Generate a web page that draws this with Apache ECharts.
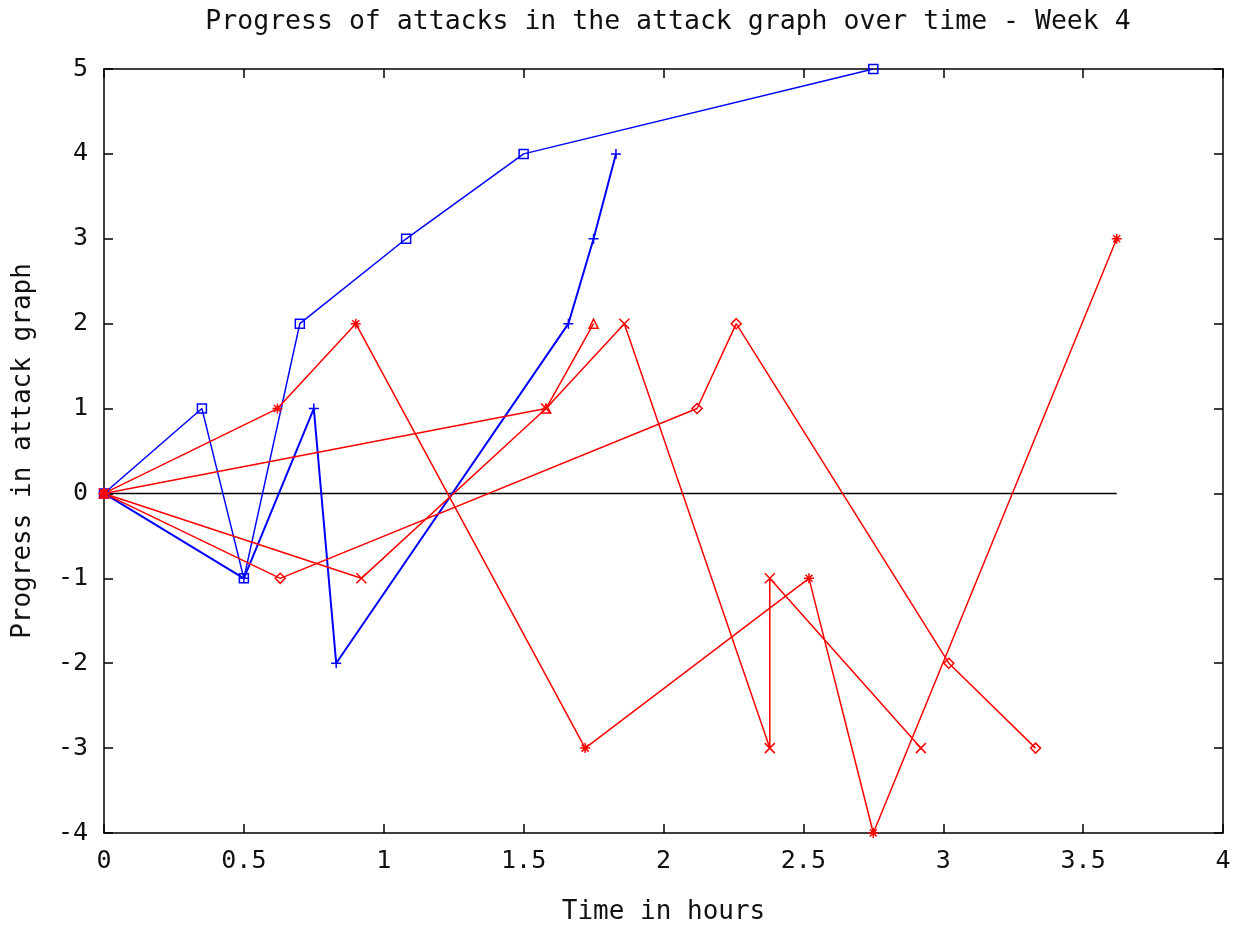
<!DOCTYPE html>
<html>
<head>
<meta charset="utf-8">
<script src="https://cdn.jsdelivr.net/npm/echarts@6/dist/echarts.min.js"></script>
<style>html,body{margin:0;padding:0;background:#fff}#c{width:1236px;height:930px}</style>
</head>
<body>
<div id="c"></div>
<script>
// ---- data ----
const titleText = "Progress of attacks in the attack graph over time - Week 4";
const xName = "Time in hours";
const yName = "Progress in attack graph";
const xTicks = [0, 0.5, 1, 1.5, 2, 2.5, 3, 3.5, 4];
const yTicks = [-4, -3, -2, -1, 0, 1, 2, 3, 4, 5];

const squareX = [0, 0.35, 0.5, 0.7, 1.08, 1.5, 2.75];
const squareY = [0, 1, -1, 2, 3, 4, 5];
const plusX = [0, 0.5, 0.75, 0.83, 1.66, 1.75, 1.83];
const plusY = [0, -1, 1, -2, 2, 3, 4];
const starX = [0, 0.62, 0.9, 1.72, 2.52, 2.75, 3.62];
const starY = [0, 1, 2, -3, -1, -4, 3];
const crossX = [0, 0.92, 1.58, 1.86, 2.38, 2.38, 2.92];
const crossY = [0, -1, 1, 2, -3, -1, -3];
const triX = [0, 1.58, 1.75];
const triY = [0, 1, 2];
const diamondX = [0, 0.63, 2.12, 2.26, 3.02, 3.33];
const diamondY = [0, -1, 1, 2, -2, -3];
const zeroX = [0, 3.62];
const zeroY = [0, 0];

// ---- build ----
const zip = (xs, ys) => xs.map((x, i) => [x, ys[i]]);
const BLUE = '#0000ff', RED = '#ff0000';
const FONT = '"DejaVu Sans Mono", "Liberation Mono", monospace';
const SYM = {
  plus: 'path://M0,5L10,5M5,0L5,10',
  cross: 'path://M0,0L10,10M10,0L0,10',
  star: 'path://M0,5L10,5M5,0L5,10M1.5,1.5L8.5,8.5M8.5,1.5L1.5,8.5'
};
function mk(name, xs, ys, color, symbol, size, width, fillNone) {
  return {
    name, type: 'line', data: zip(xs, ys),
    symbol, symbolSize: size, showSymbol: symbol !== 'none',
    lineStyle: { color, width: width },
    itemStyle: { color: fillNone ? 'rgba(0,0,0,0)' : color, borderColor: color, borderWidth: 1.5 },
    emphasis: { disabled: true }, animation: false, z: 3
  };
}
const series = [
  mk('zero', zeroX, zeroY, '#000', 'none', 0, 1.5, false),
  mk('sq', squareX, squareY, BLUE, 'rect', 9, 1.5, true),
  mk('plus', plusX, plusY, BLUE, SYM.plus, 10, 2, true),
  mk('star', starX, starY, RED, SYM.star, 10, 1.5, true),
  mk('cross', crossX, crossY, RED, SYM.cross, 10, 1.5, true),
  mk('tri', triX, triY, RED, 'triangle', 9, 1.5, true),
  mk('dia', diamondX, diamondY, RED, 'diamond', 10, 1.5, true)
];
series[0].z = 2;

const axisLabel = { color: '#111', fontFamily: FONT, fontSize: 25 };
const axisLine = { show: true, onZero: false, lineStyle: { color: '#000', width: 1.5 } };
const axisTick = { show: true, inside: true, length: 9, lineStyle: { color: '#000', width: 1.5 } };

const option = {
  backgroundColor: '#fff',
  animation: false,
  title: {
    text: titleText, left: 663, textAlign: 'center', top: 4,
    textStyle: { fontFamily: FONT, fontSize: 26.5, fontWeight: 'normal', color: '#111' }
  },
  grid: { left: 104, right: 13, top: 69, bottom: 92 },
  xAxis: [
    { type: 'value', position: 'bottom', min: 0, max: 4, interval: 0.5, splitLine: { show: false },
      name: xName, nameLocation: 'middle', nameGap: 66,
      nameTextStyle: { fontFamily: FONT, fontSize: 26, color: '#111' },
      axisLine, axisTick, axisLabel: Object.assign({ margin: 16, formatter: v => String(v) }, axisLabel) },
    { type: 'value', position: 'top', min: 0, max: 4, interval: 0.5, splitLine: { show: false },
      axisLine, axisTick, axisLabel: { show: false } }
  ],
  yAxis: [
    { type: 'value', position: 'left', min: -4, max: 5, interval: 1, splitLine: { show: false },
      name: yName, nameLocation: 'middle', nameGap: 68,
      nameTextStyle: { fontFamily: FONT, fontSize: 26, color: '#111' },
      axisLine, axisTick, axisLabel: Object.assign({ margin: 16 }, axisLabel) },
    { type: 'value', position: 'right', min: -4, max: 5, interval: 1, splitLine: { show: false },
      axisLine, axisTick, axisLabel: { show: false } }
  ],
  series
};
const chart = echarts.init(document.getElementById('c'), null, { renderer: 'canvas' });
chart.setOption(option);
</script>
</body>
</html>
